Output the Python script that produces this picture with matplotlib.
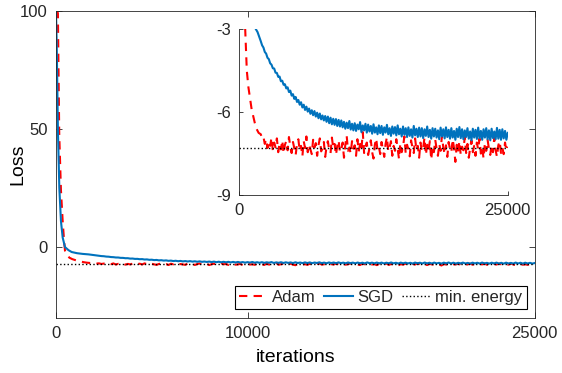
import numpy as np
import matplotlib
matplotlib.use("Agg")
import matplotlib.pyplot as plt

plt.rcParams["font.family"] = ["Liberation Sans", "DejaVu Sans"]
plt.rcParams["axes.edgecolor"] = "#262626"
plt.rcParams["xtick.color"] = "#262626"
plt.rcParams["ytick.color"] = "#262626"
plt.rcParams["text.color"] = "#262626"

# loss curves
adam_iter_early = [0, 100, 170, 260, 350, 420, 470, 550, 700, 850, 1000, 1150, 1300, 1450, 1600, 1800]
adam_loss_early = [100, 99, 48, 24, 11, 3, -1.5, -3.0, -4.5, -5.1, -5.5, -5.9, -6.15, -6.4, -6.6, -6.75]
# every 125 iterations from 2000 on
adam_loss_late = [
    -6.80, -6.95, -6.90, -7.15, -6.98, -7.30, -7.05, -7.22, -6.92, -7.40,
    -7.10, -7.28, -6.95, -7.45, -7.12, -7.35, -7.02, -7.50, -7.18, -7.05,
    -7.38, -6.90, -7.25, -7.48, -7.08, -7.32, -7.55, -7.15, -6.98, -7.40,
    -7.22, -7.60, -7.05, -7.30, -6.88, -7.45, -7.18, -7.35, -7.52, -7.00,
    -7.28, -7.12, -7.58, -7.20, -6.95, -7.42, -7.30, -7.08, -7.62, -7.25,
    -7.05, -7.38, -7.48, -6.92, -7.30, -7.15, -7.55, -7.22, -7.02, -7.45,
    -7.35, -7.10, -7.65, -7.18, -6.85, -7.40, -7.28, -7.50, -7.05, -7.32,
    -7.20, -7.58, -6.98, -7.42, -7.15, -7.35, -6.72, -7.48, -7.25, -7.10,
    -7.55, -7.30, -7.02, -7.45, -7.68, -7.18, -6.95, -7.38, -7.25, -7.52,
    -7.08, -7.35, -7.62, -7.15, -6.90, -7.42, -7.28, -7.05, -7.58, -7.22,
    -7.40, -6.98, -7.32, -7.70, -7.12, -7.45, -7.25, -6.88, -7.50, -7.18,
    -7.35, -7.60, -7.02, -7.28, -7.48, -6.95, -7.38, -7.22, -7.65, -7.10,
    -7.42, -7.30, -6.92, -7.55, -7.18, -7.38, -7.05, -7.72, -7.25, -7.45,
    -7.00, -7.32, -7.58, -7.15, -7.40, -6.85, -7.28, -7.52, -7.20, -7.62,
    -7.08, -7.35, -7.45, -6.98, -7.30, -7.80, -7.18, -7.42, -7.05, -7.55,
    -7.25, -7.38, -6.90, -7.48, -7.15, -7.65, -7.30, -7.02, -7.45, -7.22,
    -7.58, -7.10, -7.35, -6.95, -7.50, -7.28, -7.68, -7.12, -7.40, -7.00,
    -7.32, -7.55, -7.18, -7.45, -6.92, -7.38, -7.62, -7.20, -7.05, -7.48,
    -7.28, -7.52, -7.10, -7.40, -7.25]

sgd_iter_early = [0, 40, 100, 175, 260, 350, 470, 650, 820, 1100, 1400, 1700]
sgd_loss_early = [100, 85, 50, 25, 11, 4, 0, -1.3, -2.1, -2.6, -2.9, -3.1]
sgd_loss_late = [
    -3.43, -3.58, -3.66, -3.82, -3.88, -4.03, -4.08, -4.23, -4.28, -4.41,
    -4.42, -4.57, -4.58, -4.72, -4.71, -4.88, -4.86, -5.01, -4.99, -5.14,
    -5.10, -5.27, -5.22, -5.40, -5.35, -5.52, -5.45, -5.63, -5.56, -5.73,
    -5.64, -5.83, -5.73, -5.92, -5.80, -5.98, -5.87, -6.06, -5.93, -6.11,
    -5.96, -6.16, -6.02, -6.22, -6.05, -6.26, -6.12, -6.30, -6.14, -6.35,
    -6.16, -6.40, -6.20, -6.44, -6.24, -6.46, -6.25, -6.50, -6.28, -6.52,
    -6.30, -6.55, -6.35, -6.60, -6.38, -6.58, -6.32, -6.63, -6.42, -6.66,
    -6.40, -6.68, -6.45, -6.62, -6.36, -6.72, -6.48, -6.66, -6.42, -6.74,
    -6.45, -6.70, -6.50, -6.78, -6.44, -6.74, -6.55, -6.80, -6.48, -6.76,
    -6.50, -6.82, -6.55, -6.74, -6.46, -6.80, -6.58, -6.86, -6.52, -6.78,
    -6.54, -6.84, -6.48, -6.80, -6.60, -6.88, -6.52, -6.82, -6.58, -6.90,
    -6.55, -6.86, -6.62, -6.92, -6.50, -6.84, -6.60, -6.90, -6.56, -6.88,
    -6.58, -6.94, -6.62, -6.86, -6.52, -6.90, -6.64, -6.96, -6.58, -6.88,
    -6.60, -6.92, -6.66, -6.98, -6.56, -6.88, -6.62, -6.95, -6.55, -6.90,
    -6.64, -6.96, -6.58, -6.92, -6.68, -7.00, -6.60, -6.90, -6.54, -6.94,
    -6.62, -6.98, -6.66, -6.90, -6.58, -6.96, -6.70, -7.02, -6.60, -6.92,
    -6.64, -6.97, -6.56, -6.94, -6.68, -7.00, -6.62, -6.92, -6.58, -6.98,
    -6.66, -7.02, -6.60, -6.94, -6.70, -6.98, -6.57, -6.96, -6.64, -7.00,
    -6.62, -6.95, -6.68, -7.00, -6.75]

late_iter = np.arange(2000, 25001, 125)
min_energy = -7.28

adam_iter = np.concatenate([adam_iter_early, late_iter])
adam_loss = np.concatenate([adam_loss_early, adam_loss_late])
sgd_iter = np.concatenate([sgd_iter_early, late_iter])
sgd_loss = np.concatenate([sgd_loss_early, sgd_loss_late])

red = "#ff0000"
blue = "#0072bd"

fig = plt.figure(figsize=(5.62, 3.73), dpi=100)
ax = fig.add_axes([0.0996, 0.1475, 0.852, 0.824])

ax.plot(adam_iter, adam_loss, color=red, lw=1.5, dashes=(4, 3), label="Adam")
ax.plot(sgd_iter, sgd_loss, color=blue, lw=1.5, label="SGD")
ax.plot([0, 25000], [min_energy, min_energy], "k:", lw=1.0, label="min. energy")

ax.set_xlim(0, 25000)
ax.set_ylim(-30, 100)
ax.set_xticks([0, 10000, 25000])
ax.set_yticks([0, 50, 100])
ax.tick_params(direction="in", length=4, width=0.6, labelsize=12, pad=6,
               top=True, right=True)
for s in ax.spines.values():
    s.set_linewidth(0.6)
ax.set_xlabel("iterations", fontsize=14, labelpad=5.5)
ax.set_ylabel("Loss", fontsize=14, labelpad=-5)

leg = ax.legend(loc="lower right", bbox_to_anchor=(0.983, 0.029), borderaxespad=0,
                ncol=3, fontsize=12, handlelength=1.7, handletextpad=0.3,
                columnspacing=0.5, borderpad=0.25, fancybox=False, framealpha=1)
leg.get_frame().set_edgecolor("black")
leg.get_frame().set_linewidth(0.8)

# inset zoom on the tail
ins = fig.add_axes([0.4258, 0.4772, 0.4776, 0.4442])
ins.plot(adam_iter, adam_loss, color=red, lw=1.5, dashes=(4, 3))
ins.plot(sgd_iter, sgd_loss, color=blue, lw=1.5)
ins.plot([0, 25000], [min_energy, min_energy], "k:", lw=1.0)
ins.set_xlim(0, 25000)
ins.set_ylim(-9, -3)
ins.set_xticks([0, 25000])
ins.set_yticks([-9, -6, -3])
ins.set_yticklabels(["-9", "-6", "-3"])
ins.tick_params(direction="in", length=3, width=0.6, labelsize=12, pad=6)
ins.spines["top"].set_visible(False)
ins.spines["right"].set_visible(False)
for s in ins.spines.values():
    s.set_linewidth(0.6)

plt.savefig("out.png", dpi=100)
